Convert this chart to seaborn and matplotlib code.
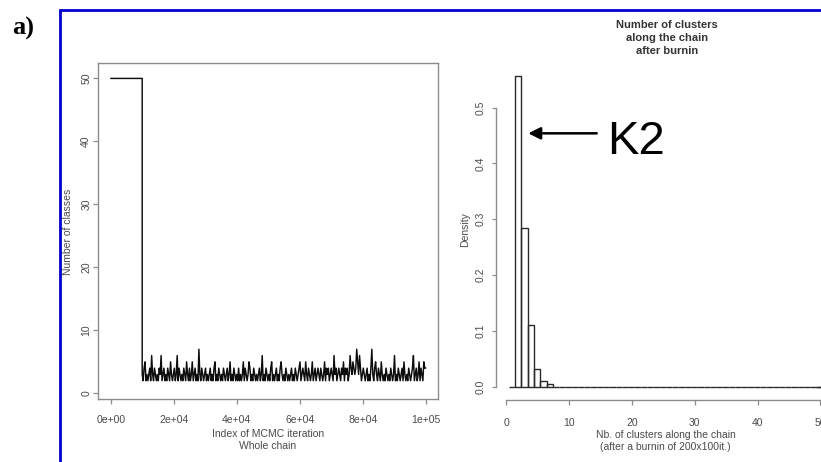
import numpy as np
import pandas as pd
import matplotlib
matplotlib.use("Agg")
import matplotlib.pyplot as plt
from matplotlib import font_manager
from matplotlib.patches import Rectangle
import seaborn as sns

# ---------------- data ----------------
burnin_iterations = [0, 10000]
burnin_classes = [50, 50]
trace_start = 10000
trace_step = 300
trace_classes = [
    3,2,4,5,2,3,2,3,4,2,6,3,2,4,3,2,3,2,4,3,
    6,2,3,4,2,3,2,4,3,2,5,3,2,3,4,2,3,6,2,4,
    3,2,3,2,4,3,2,5,3,2,4,2,3,5,2,3,4,2,3,2,
    7,3,2,4,3,2,3,4,2,3,2,3,4,2,3,2,4,5,2,3,
    2,4,3,2,3,2,4,3,2,3,4,2,3,5,2,3,2,4,3,2,
    3,2,4,2,3,2,3,5,2,4,3,2,3,5,4,2,3,2,4,3,
    2,3,2,3,4,2,3,6,2,3,2,4,3,2,3,2,4,5,2,3,
    2,3,4,2,3,2,4,5,3,2,3,2,4,3,2,3,2,3,4,2,
    3,2,4,3,2,3,4,5,2,3,4,3,2,5,3,2,4,3,2,3,
    5,2,3,4,2,3,4,3,2,4,3,2,3,5,2,4,3,4,2,3,
    4,3,2,6,3,4,2,3,4,3,2,4,3,5,2,4,3,4,2,3,
    6,4,3,5,4,3,4,7,5,3,6,4,2,3,4,3,2,3,4,2,
    3,2,4,7,3,2,4,5,3,2,4,3,2,5,3,2,3,2,4,3,
    2,3,2,4,3,2,3,6,2,3,2,4,3,2,3,4,2,5,3,2,
    3,2,4,3,2,3,4,6,2,3,4,2,3,5,2,4,3,2,5,4,
    4,
]

cluster_k = list(range(1, 51))
cluster_density = [0.0, 0.556, 0.284, 0.110, 0.031, 0.011, 0.004] + [0.0] * 43
hist_breaks = [0.4 + i for i in range(51)]

left_xticks = [0, 20000, 40000, 60000, 80000, 100000]
left_xticklabels = ["0e+00", "2e+04", "4e+04", "6e+04", "8e+04", "1e+05"]
left_yticks = [0, 10, 20, 30, 40, 50]
right_xticks = [0, 10, 20, 30, 40, 50]
right_yticks = [0.0, 0.1, 0.2, 0.3, 0.4, 0.5]
right_yticklabels = ["0.0", "0.1", "0.2", "0.3", "0.4", "0.5"]

# ---------------- style ----------------
sns.set_theme(style="white")
avail = {f.name for f in font_manager.fontManager.ttflist}
narrow = "Liberation Sans Narrow" if "Liberation Sans Narrow" in avail else "Liberation Sans"
plt.rcParams["font.family"] = [narrow, "DejaVu Sans"]

AX_GRAY = "#8c8c8c"
TXT_GRAY = "#4a4a4a"
W, H = 821, 462

def fx(px):
    return px / W

def fy(py):
    return 1 - py / H

fig = plt.figure(figsize=(W / 100, H / 100), dpi=100)
fig.patch.set_facecolor("white")

# ---------------- left panel: trace ----------------
axL = fig.add_axes([fx(98.3), fy(399), fx(437.7 - 98.3), (399 - 63.3) / H])
iters = burnin_iterations + list(trace_start + trace_step * np.arange(len(trace_classes)))
vals = burnin_classes + trace_classes
df_trace = pd.DataFrame({"iteration": iters, "classes": vals})
sns.lineplot(data=df_trace, x="iteration", y="classes", ax=axL, estimator=None,
             sort=False, color="#0d0d0d", linewidth=1.05)
axL.set_xlim(-3937, 103810)
axL.set_ylim(-0.9, 52.4)
axL.set_xticks(left_xticks)
axL.set_xticklabels(left_xticklabels)
axL.set_yticks(left_yticks)
axL.set_yticklabels([str(v) for v in left_yticks])
for s in axL.spines.values():
    s.set_color(AX_GRAY)
    s.set_linewidth(1.0)
    s.set_visible(True)
axL.tick_params(axis="x", direction="out", length=3.6, width=0.9, color=AX_GRAY,
                labelcolor=TXT_GRAY, labelsize=7.5, pad=8, bottom=True)
axL.tick_params(axis="y", direction="out", length=3.6, width=0.9, color=AX_GRAY,
                labelcolor=TXT_GRAY, labelsize=7.5, pad=1.5, left=True, labelrotation=90)
for t in axL.get_yticklabels():
    t.set_va("center")
axL.set_xlabel("")
axL.set_ylabel("")
fig.text(fx(268), fy(434), "Index of MCMC iteration", ha="center", va="center",
         fontsize=7.5, color=TXT_GRAY)
fig.text(fx(268), fy(446), "Whole chain", ha="center", va="center",
         fontsize=7.5, color=TXT_GRAY)
fig.text(fx(68), fy(232), "Number of classes", ha="center", va="center",
         rotation=90, fontsize=7.5, color=TXT_GRAY)

# ---------------- right panel: histogram ----------------
axR = fig.add_axes([fx(495.7), fy(400), fx(821 - 495.7), (400 - 63) / H])
sns.histplot(x=cluster_k, weights=cluster_density, bins=hist_breaks, stat="count",
             element="bars", fill=False, color="#2a2a2a", linewidth=1.0, ax=axR)
axR.set_xlim(-1.69, 50.11)
axR.set_ylim(-0.0238, 0.580)
axR.set_xticks(right_xticks)
axR.set_xticklabels([str(v) for v in right_xticks])
axR.set_yticks(right_yticks)
axR.set_yticklabels(right_yticklabels)
axR.spines["top"].set_visible(False)
axR.spines["right"].set_visible(False)
for side in ("left", "bottom"):
    axR.spines[side].set_visible(True)
    axR.spines[side].set_color(AX_GRAY)
    axR.spines[side].set_linewidth(1.0)
axR.spines["left"].set_bounds(0, 0.5)
axR.spines["bottom"].set_bounds(0, 50)
axR.tick_params(axis="x", direction="out", length=3.6, width=0.9, color=AX_GRAY,
                labelcolor=TXT_GRAY, labelsize=7.5, pad=9, bottom=True)
axR.tick_params(axis="y", direction="out", length=2.9, width=0.9, color=AX_GRAY,
                labelcolor=TXT_GRAY, labelsize=7.5, pad=4, left=True, labelrotation=90)
for t in axR.get_yticklabels():
    t.set_va("center")
axR.set_xlabel("")
axR.set_ylabel("")
fig.text(fx(665.5), fy(435), "Nb. of clusters along the chain", ha="center", va="center",
         fontsize=7.5, color=TXT_GRAY)
fig.text(fx(665.5), fy(447), "(after a burnin of 200x100it.)", ha="center", va="center",
         fontsize=7.5, color=TXT_GRAY)
fig.text(fx(465), fy(230), "Density", ha="center", va="center",
         rotation=90, fontsize=7.5, color=TXT_GRAY)
fig.text(fx(666.7), fy(37.7), "Number of clusters\nalong the chain\nafter burnin",
         ha="center", va="center", fontsize=8, fontweight="bold", color="#333333",
         linespacing=1.35)

# K2 annotation
axR.annotate("", xy=(3.5, 0.454), xytext=(14.4, 0.454),
             arrowprops=dict(arrowstyle="-|>", color="black", lw=1.8,
                             mutation_scale=18, shrinkA=0, shrinkB=0))
axR.text(16.0, 0.417, "K2", ha="left", va="baseline", fontsize=34,
         family=["Liberation Sans", "DejaVu Sans"], color="black")

# ---------------- frame and panel label ----------------
fig.add_artist(Rectangle((fx(60), -0.5), 2.0, fy(9.5) + 0.5, transform=fig.transFigure,
                         fill=False, edgecolor="#0000cc", linewidth=2.0, clip_on=False))
fig.text(fx(12), fy(35), "a)", ha="left", va="baseline", fontsize=19,
         fontweight="bold", family=["Liberation Serif", "DejaVu Serif"], color="black")

fig.savefig("out.png", dpi=100, facecolor="white")
